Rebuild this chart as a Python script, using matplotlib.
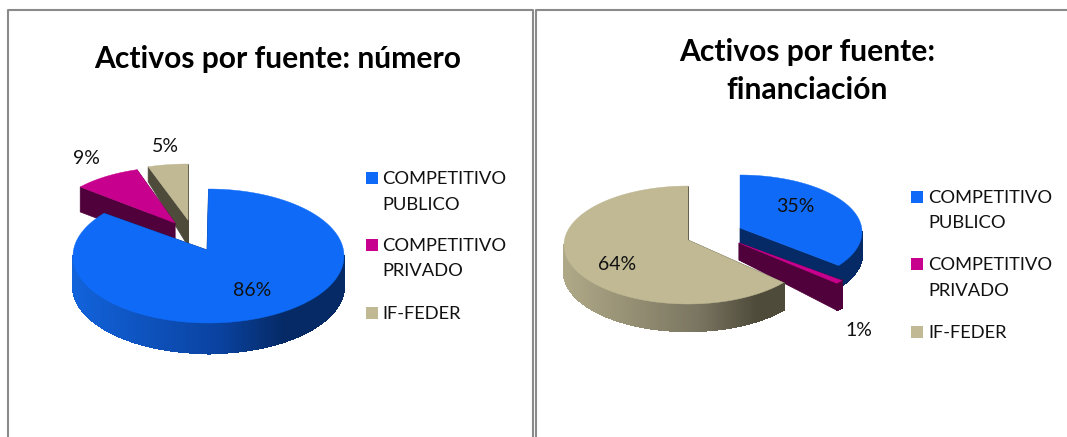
import numpy as np
import matplotlib
matplotlib.use("Agg")
import matplotlib.pyplot as plt
from matplotlib.collections import PolyCollection
from matplotlib.colors import to_rgb

plt.rcParams['font.family'] = ['Lato', 'DejaVu Sans']

# ---- data ----
categories = ["COMPETITIVO\nPUBLICO", "COMPETITIVO\nPRIVADO", "IF-FEDER"]
numero_values = [86, 9, 5]
financiacion_values = [35, 1, 64]
title_numero = "Activos por fuente: número"
title_financiacion = "Activos por fuente:\nfinanciación"

# ---- styles ----
top_colors = ["#0F6BF7", "#C8008E", "#C0B994"]
dark_colors = ["#052A66", "#50003A", "#4F4B3B"]
light_side = ["#1263DC", "#50003A", "#B0A988"]
mid_side = ["#0A429F", "#50003A", "#7A7560"]

# per slice: centre x, centre y, rx, ry, apex x, apex y, depth at apex, depth at rim
geom_numero = [
    (208.5, 256, 135.5, 67, 207, 250, 30, 30),
    (175, 222, 123, 55, 175, 223, 25, 25),
    (188, 220, 129, 56, 188, 220, 26, 15),
]
geom_fin = [
    (740, 232, 122, 57, 740, 228, 22, 22),
    (739, 247, 127, 57, 739, 243, 17, 27),
    (688, 245, 124, 59, 688, 240, 27, 27),
]
order_numero = [2, 1, 0]
order_fin = [0, 1, 2]


def lerp(c0, c1, t):
    a, b = np.array(to_rgb(c0)), np.array(to_rgb(c1))
    return tuple(a + (b - a) * t)


def side_color(i, t):
    if t < 0.55:
        return lerp(light_side[i], mid_side[i], t / 0.55)
    if t < 0.78:
        return lerp(mid_side[i], dark_colors[i], (t - 0.55) / 0.23)
    return to_rgb(dark_colors[i])


def draw_pie(ax, values, geom, order):
    ends = 90 - np.cumsum(values) * 3.6
    starts = np.r_[90, ends[:-1]]
    for z, i in enumerate(order):
        a0, a1 = starts[i], ends[i]
        cx, cy, rx, ry, ax0, ay0, da, dc = geom[i]
        base = z * 10 + 2
        for cut in (a0, a1):
            px = cx + rx * np.cos(np.radians(cut))
            py = cy - ry * np.sin(np.radians(cut))
            ax.fill([ax0, px, px, ax0], [ay0, py, py + dc, ay0 + da],
                    color=dark_colors[i], lw=0.5, zorder=base)
        # visible outer wall
        for lo, hi in ((-180, 0), (-540, -360)):
            l, h = max(lo, a1), min(hi, a0)
            if l >= h:
                continue
            th = np.radians(np.linspace(l, h, max(3, int(h - l) + 2)))
            xs = cx + rx * np.cos(th)
            ys = cy - ry * np.sin(th)
            # solid silhouette under the strips so that no seam shows through
            ax.fill(np.r_[xs, xs[::-1]], np.r_[ys, ys[::-1] + dc],
                    color=side_color(i, 0.6), lw=0.5, zorder=base + 0.5)
            quads, cols = [], []
            for k in range(len(th) - 1):
                quads.append([(xs[k], ys[k]), (xs[k + 1], ys[k + 1]),
                              (xs[k + 1], ys[k + 1] + dc), (xs[k], ys[k] + dc)])
                t = ((xs[k] + xs[k + 1]) / 2 - (cx - rx)) / (2 * rx)
                cols.append(side_color(i, t))
            ax.add_collection(PolyCollection(quads, facecolors=cols, edgecolors=cols,
                                             linewidths=1.0, antialiaseds=False,
                                             zorder=base + 1))
        # top face
        th = np.radians(np.linspace(a0, a1, max(3, int(a0 - a1) + 2)))
        ax.fill(np.r_[ax0, cx + rx * np.cos(th)], np.r_[ay0, cy - ry * np.sin(th)],
                color=top_colors[i], lw=0.3, zorder=base + 2)


def draw_legend(ax, x_marker, x_text, ys):
    for cat, color, y in zip(categories, top_colors, ys):
        ax.scatter([x_marker], [y], marker='s', s=MARKER_S, color=color, lw=0, zorder=50)
        for j, line in enumerate(cat.split("\n")):
            ax.text(x_text, y + 1 + j * 25.5, line, fontsize=LABEL_FS, va='center',
                    ha='left', color='#111111', zorder=50)


LABEL_FS = 13.2
PCT_FS = 14
TITLE_FS = 21.6
MARKER_S = 78

fig = plt.figure(figsize=(10.67, 4.37), dpi=100, facecolor='white')
ax = fig.add_axes([0, 0, 1, 1])
ax.set_xlim(0, 1067)
ax.set_ylim(437, 0)
ax.axis('off')

# panel frames
frame = dict(color='#8A8A8A', lw=1.5, solid_capstyle='butt', zorder=40)
ax.plot([8, 8, 533, 533], [437, 10, 10, 437], **frame)
ax.plot([536, 536, 1067], [437, 10, 10], **frame)

draw_pie(ax, numero_values, geom_numero, order_numero)
draw_pie(ax, financiacion_values, geom_fin, order_fin)

ax.text(278, 59, title_numero, fontsize=TITLE_FS, fontweight='bold',
        ha='center', va='center', color='black')
ax.text(807, 71, title_financiacion, fontsize=TITLE_FS, fontweight='bold',
        ha='center', va='center', color='black', linespacing=1.42, multialignment='center')

for v, (x, y) in zip(numero_values, [(252, 290), (86, 159), (165, 147)]):
    ax.text(x, y, f"{v}%", fontsize=PCT_FS, ha='center', va='center', color='#111111', zorder=50)
for v, (x, y) in zip(financiacion_values, [(795, 206), (859, 331), (617, 264)]):
    ax.text(x, y, f"{v}%", fontsize=PCT_FS, ha='center', va='center', color='#111111', zorder=50)

draw_legend(ax, 372, 382, [178, 245, 313])
draw_legend(ax, 917, 928, [197, 264, 332])

fig.savefig("out.png", dpi=100)
